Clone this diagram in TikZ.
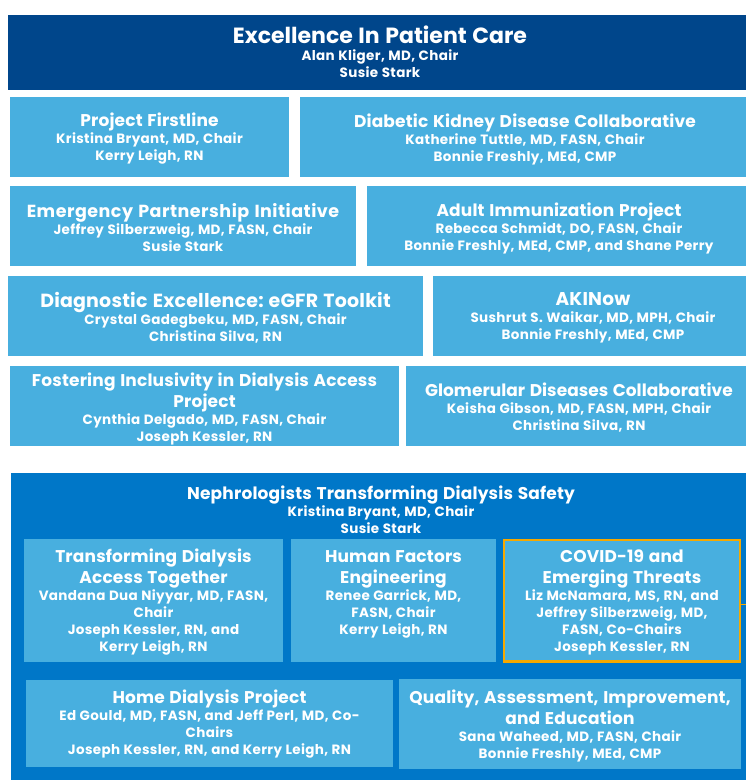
\documentclass[tikz,border=0pt]{standalone}
\usepackage{fontspec}
\setmainfont{Poppins}
\definecolor{dkblue}{HTML}{00468B}
\definecolor{ltblue}{HTML}{48AFDF}
\definecolor{mdblue}{HTML}{0077C8}
\definecolor{orng}{HTML}{F5A800}
\newcommand{\wsp}[1]{\spaceskip=#1\fontdimen2\font\relax}
\newcommand{\bigttl}[1]{\fontsize{22}{25}\selectfont\wsp{1.2}#1\par}
\newcommand{\ttlsz}[3]{\fontsize{#1}{21}\selectfont\addfontfeatures{LetterSpace=#2}\wsp{1.25}#3\par}
\newcommand{\ttl}[1]{\ttlsz{17}{1.0}{#1}}
\newcommand{\nms}[1]{\fontsize{13.5}{17}\selectfont\addfontfeatures{LetterSpace=2.5}\wsp{1.1}#1\par}
\tikzset{
  panel/.style={fill=ltblue},
  txt/.style={text=white, font=\bfseries, align=center, inner sep=0pt, text width=600},
}
\begin{document}
\begin{tikzpicture}[x=1pt,y=-1pt]
\path[use as bounding box, fill=white] (0,0) rectangle (746,780);
% top
\fill[dkblue] (8,15) rectangle (746,90);
\node[txt] (top) at (380,52) {\bigttl{Excellence In Patient Care}\nms{Alan Kliger, MD, Chair\\Susie Stark}};
% row 1
\fill[panel] (10,97) rectangle (289,177);
\node[txt] (pf) at (149.5,139) {\ttl{Project Firstline}\nms{Kristina Bryant, MD, Chair\\Kerry Leigh, RN}};
\fill[panel] (300,97) rectangle (746,177);
\node[txt] (dkd) at (525,139) {\ttl{Diabetic Kidney Disease Collaborative}\nms{Katherine Tuttle, MD, FASN, Chair\\Bonnie Freshly, MEd, CMP}};
% row 2
\fill[panel] (10,186) rectangle (356,266);
\node[txt] (epi) at (183,228) {\ttlsz{17.5}{2.8}{Emergency Partnership Initiative}\nms{Jeffrey Silberzweig, MD, FASN, Chair\\Susie Stark}};
\fill[panel] (367,186) rectangle (746,266);
\node[txt] (aip) at (559,228) {\ttl{Adult Immunization Project}\nms{Rebecca Schmidt, DO, FASN, Chair\\Bonnie Freshly, MEd, CMP, and Shane Perry}};
% row 3
\fill[panel] (8,276) rectangle (423,356);
\node[txt] (dex) at (215.5,318) {\ttlsz{19}{1.0}{Diagnostic Excellence: eGFR Toolkit}\nms{Crystal Gadegbeku, MD, FASN, Chair\\Christina Silva, RN}};
\fill[panel] (433,276) rectangle (746,356);
\node[txt] (aki) at (593,318) {\ttlsz{18.5}{1.2}{AKINow}\nms{Sushrut S. Waikar, MD, MPH, Chair\\Bonnie Freshly, MEd, CMP}};
% row 4
\fill[panel] (10,366) rectangle (399,446);
\node[txt] (fid) at (204.5,408.5) {\ttl{Fostering Inclusivity in Dialysis Access\\Project}\nms{Cynthia Delgado, MD, FASN, Chair\\Joseph Kessler, RN}};
\fill[panel] (406,366) rectangle (746,446);
\node[txt] (gdc) at (579,408) {\ttlsz{17}{0.2}{Glomerular Diseases Collaborative}\nms{Keisha Gibson, MD, FASN, MPH, Chair\\Christina Silva, RN}};
% NTDS
\fill[mdblue] (11,473) rectangle (746,780);
\node[txt] (ntds) at (381,509.5) {\ttl{Nephrologists Transforming Dialysis Safety}\nms{Kristina Bryant, MD, Chair\\Susie Stark}};
\fill[panel] (24,539) rectangle (283,662);
\node[txt] (tdat) at (153.5,602.5) {\ttl{Transforming Dialysis\\Access Together}\nms{Vandana Dua Niyyar, MD, FASN,\\Chair\\Joseph Kessler, RN, and\\Kerry Leigh, RN}};
\fill[panel] (291,539) rectangle (496,662);
\node[txt] (hfe) at (393.5,594) {\ttl{Human Factors\\Engineering}\nms{Renee Garrick, MD,\\FASN, Chair\\Kerry Leigh, RN}};
\fill[panel, draw=orng, line width=2.3] (504,540) rectangle (740,661.5);
\node[txt] (cov) at (622,602.5) {\ttl{COVID-19 and\\Emerging Threats}\nms{Liz McNamara, MS, RN, and\\Jeffrey Silberzweig, MD,\\FASN, Co-Chairs\\Joseph Kessler, RN}};
\coordinate (stub) at (746,604.7);
\draw[orng, line width=1.5] (741,604.7) -- (stub);
\fill[panel] (26,680) rectangle (393,767);
\node[txt] (home) at (209.5,724.5) {\ttl{Home Dialysis Project}\nms{Ed Gould, MD, FASN, and Jeff Perl, MD, Co-\\Chairs\\Joseph Kessler, RN, and Kerry Leigh, RN}};
\fill[panel] (399,679) rectangle (741,769);
\node[txt] (qaie) at (570,726) {\ttl{Quality, Assessment, Improvement,\\and Education}\nms{Sana Waheed, MD, FASN, Chair\\Bonnie Freshly, MEd, CMP}};
\end{tikzpicture}
\end{document}
